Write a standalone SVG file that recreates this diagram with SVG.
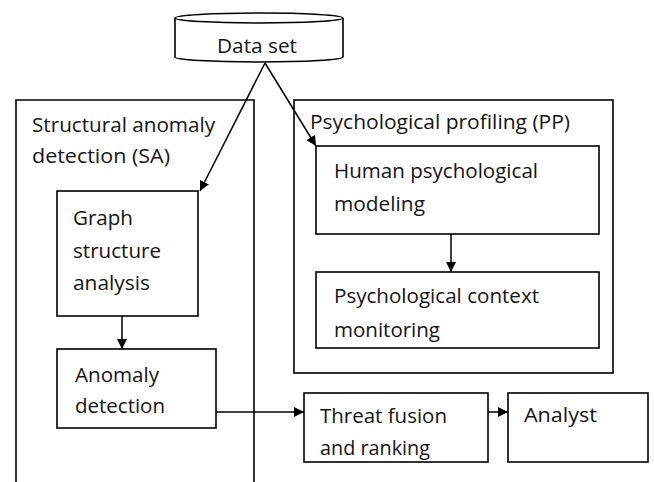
<svg xmlns="http://www.w3.org/2000/svg" width="654" height="482" viewBox="0 0 654 482">
<style>
.b{fill:#fff;stroke:#000;stroke-width:1.6}
.o{fill:none;stroke:#000;stroke-width:1.6}
.t{font-family:"Open Sans","Noto Sans","DejaVu Sans",sans-serif;font-size:20px;fill:#141414}
.c{fill:none;stroke:#000;stroke-width:1.5}
</style>
<defs>
<marker id="ah" viewBox="0 0 10 10" refX="10" refY="5" markerWidth="10" markerHeight="10" markerUnits="userSpaceOnUse" orient="auto">
<path d="M0,0 L10,5 L0,10 Z" fill="#000"/>
</marker>
</defs>
<rect width="654" height="482" fill="#fff"/>
<g id="sa">
<path class="o" d="M16,484 V100 H254 V484"/>
<text class="t" x="32" y="132" textLength="183" lengthAdjust="spacingAndGlyphs">Structural anomaly</text>
<text class="t" x="32" y="163" textLength="138" lengthAdjust="spacingAndGlyphs">detection (SA)</text>
</g>
<g id="pp">
<rect class="o" x="294" y="100" width="319" height="273"/>
<text class="t" x="310" y="129" textLength="260" lengthAdjust="spacingAndGlyphs">Psychological profiling (PP)</text>
</g>
<g id="dataset">
<path class="b" d="M175,18 A84,5 0 0 1 343,18 V57 A84,5 0 0 1 175,57 Z"/>
<path class="o" d="M175,18 A84,5 0 0 0 343,18"/>
<text class="t" x="217" y="53" textLength="80" lengthAdjust="spacingAndGlyphs">Data set</text>
</g>
<g id="graph">
<rect class="b" x="57" y="191" width="141" height="125"/>
<text class="t" x="73" y="225" textLength="60" lengthAdjust="spacingAndGlyphs">Graph</text>
<text class="t" x="73" y="258" textLength="88" lengthAdjust="spacingAndGlyphs">structure</text>
<text class="t" x="73" y="290" textLength="77" lengthAdjust="spacingAndGlyphs">analysis</text>
</g>
<g id="anomaly">
<rect class="b" x="57" y="349" width="159" height="79"/>
<text class="t" x="75" y="382" textLength="84" lengthAdjust="spacingAndGlyphs">Anomaly</text>
<text class="t" x="75" y="413" textLength="90" lengthAdjust="spacingAndGlyphs">detection</text>
</g>
<g id="human">
<rect class="b" x="316" y="146" width="283" height="88"/>
<text class="t" x="334" y="178" textLength="204" lengthAdjust="spacingAndGlyphs">Human psychological</text>
<text class="t" x="334" y="211" textLength="91" lengthAdjust="spacingAndGlyphs">modeling</text>
</g>
<g id="context">
<rect class="b" x="316" y="272" width="283" height="76"/>
<text class="t" x="334" y="303" textLength="205" lengthAdjust="spacingAndGlyphs">Psychological context</text>
<text class="t" x="334" y="337" textLength="106" lengthAdjust="spacingAndGlyphs">monitoring</text>
</g>
<g id="threat">
<rect class="b" x="304" y="393" width="184" height="69"/>
<text class="t" x="320" y="423" textLength="127" lengthAdjust="spacingAndGlyphs">Threat fusion</text>
<text class="t" x="320" y="455" textLength="110" lengthAdjust="spacingAndGlyphs">and ranking</text>
</g>
<g id="analyst">
<rect class="b" x="508" y="393" width="140" height="69"/>
<text class="t" x="524" y="422" textLength="73" lengthAdjust="spacingAndGlyphs">Analyst</text>
</g>
<g id="connectors">
<line class="c" x1="265" y1="63" x2="200" y2="191" marker-end="url(#ah)"/>
<line class="c" x1="265" y1="63" x2="316" y2="146" marker-end="url(#ah)"/>
<line class="c" x1="122" y1="316" x2="122" y2="349" marker-end="url(#ah)"/>
<line class="c" x1="451" y1="234" x2="451" y2="272" marker-end="url(#ah)"/>
<line class="c" x1="216" y1="412" x2="304" y2="412" marker-end="url(#ah)"/>
<line class="c" x1="488" y1="412" x2="508" y2="412" marker-end="url(#ah)"/>
</g>
</svg>
